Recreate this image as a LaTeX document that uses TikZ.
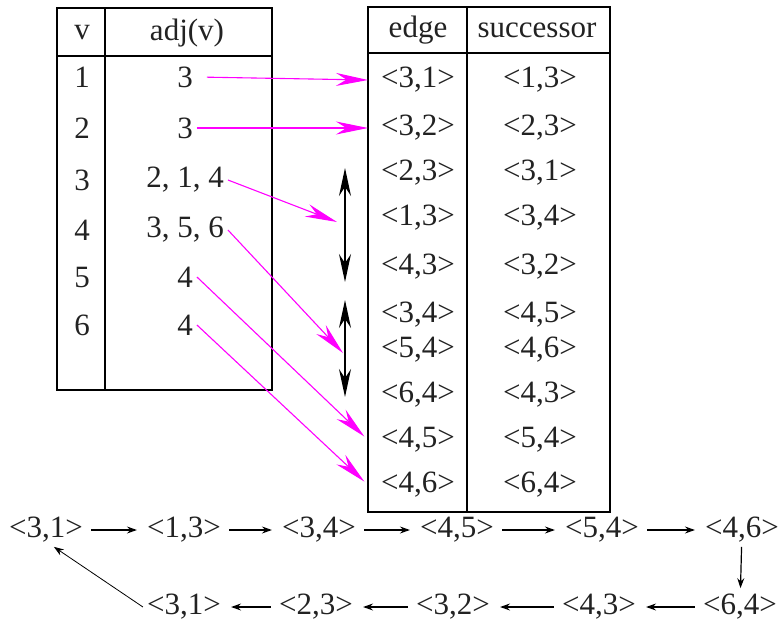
\documentclass[tikz,border=0pt]{standalone}
\usepackage{fontspec}
\setmainfont{Liberation Serif}
\usepackage{tikz}
\usetikzlibrary{arrows.meta}
\definecolor{adjpink}{HTML}{FF00FF}
\definecolor{textgray}{HTML}{222222}

\begin{document}
\begin{tikzpicture}[
    x=1pt, y=-1pt,
    txt/.style={font=\fontsize{31}{34}\selectfont, text=textgray, inner sep=4pt},
    tbl/.style={draw, line width=1.3pt},
    ptr/.style={-{Stealth[length=32pt, width=13pt]}, adjpink, line width=1.1pt},
    dbl/.style={{Stealth[length=28pt, width=12pt]}-{Stealth[length=28pt, width=12pt]}, line width=1.3pt},
    nxt/.style={-{Stealth[length=10pt, width=7pt]}, line width=1.2pt, shorten <=4pt, shorten >=6pt}
]
    \useasboundingbox (0,0) rectangle (782,624);

    % vertex table
    \draw[tbl] (57,8) rectangle (272,390);
    \draw[tbl] (57,56) -- (272,56);
    \draw[tbl] (105,8) -- (105,390);
    \node[txt] (hv) at (82,33) {v};
    \node[txt] (hadj) at (187,33) {adj(v)};
    \foreach \v/\a/\y in {1/3/77, 2/3/128, 3/{2, 1, 4}/180, 4/{3, 5, 6}/230, 5/4/277, 6/4/325} {
        \node[txt] (v\v) at (82,\y) {\v};
        \node[txt] (a\v) at (185,\y) {\a};
    }

    % edge table
    \coordinate (rtl) at (368,7);
    \draw[tbl] (rtl) rectangle (610,512);
    \draw[tbl] (368,53) -- (610,53);
    \draw[tbl] (467,7) -- (467,512);
    \node[txt] (hedge) at (418,30) {edge};
    \node[txt] (hsucc) at (537,30) {successor};
    \foreach \n/\e/\s/\y in {1/{3,1}/{1,3}/80, 2/{3,2}/{2,3}/128, 3/{2,3}/{3,1}/173,
                             4/{1,3}/{3,4}/218, 5/{4,3}/{3,2}/267, 6/{3,4}/{4,5}/315,
                             7/{5,4}/{4,6}/350, 8/{6,4}/{4,3}/395, 9/{4,5}/{5,4}/440,
                             10/{4,6}/{6,4}/485} {
        \node[txt] (e\n) at (418,\y) {<\e>};
        \node[txt] (s\n) at (540,\y) {<\s>};
    }

    % runs of edges out of the same vertex
    \coordinate (da1) at (345,168);
    \coordinate (da2) at (345,282);
    \coordinate (db1) at (345,300);
    \coordinate (db2) at (345,397);
    \draw[dbl] (da1) -- (da2);
    \draw[dbl] (db1) -- (db2);

    % adjacency pointers
    \coordinate (m3) at (337,222);
    \coordinate (m4) at (343,353);
    \draw[ptr, shorten <=10pt] (a1.east) -- (e1 -| rtl);
    \draw[ptr] (a2.east) -- (e2 -| rtl);
    \draw[ptr] (a3.east) -- (m3);
    \draw[ptr] (a4.east) -- (m4);
    \draw[ptr, shorten >=5pt] (a5.east) -- (e9 -| rtl);
    \draw[ptr, shorten >=5pt] (a6.east) -- (e10 -| rtl);

    % Euler tour
    \node[txt] (c1) at (46,530) {<3,1>};
    \node[txt] (c2) at (184,530) {<1,3>};
    \node[txt] (c3) at (319,530) {<3,4>};
    \node[txt] (c4) at (457,530) {<4,5>};
    \node[txt] (c5) at (602,530) {<5,4>};
    \node[txt] (c6) at (742,530) {<4,6>};
    \node[txt] (d5) at (740,607) {<6,4>};
    \node[txt] (d4) at (599,607) {<4,3>};
    \node[txt] (d3) at (453,607) {<3,2>};
    \node[txt] (d2) at (316,607) {<2,3>};
    \node[txt] (d1) at (184,607) {<3,1>};

    \draw[nxt] (c1) -- (c2);
    \draw[nxt] (c2) -- (c3);
    \draw[nxt] (c3) -- (c4);
    \draw[nxt] (c4) -- (c5);
    \draw[nxt] (c5) -- (c6);
    \draw[nxt, shorten <=0pt, shorten >=2pt] (c6) -- (d5);
    \draw[nxt] (d5) -- (d4);
    \draw[nxt] (d4) -- (d3);
    \draw[nxt] (d3) -- (d2);
    \draw[nxt] (d2) -- (d1);
    \draw[nxt, line width=0.8pt, shorten <=0pt, shorten >=0pt] (d1.west) -- (c1.-65);
\end{tikzpicture}
\end{document}
